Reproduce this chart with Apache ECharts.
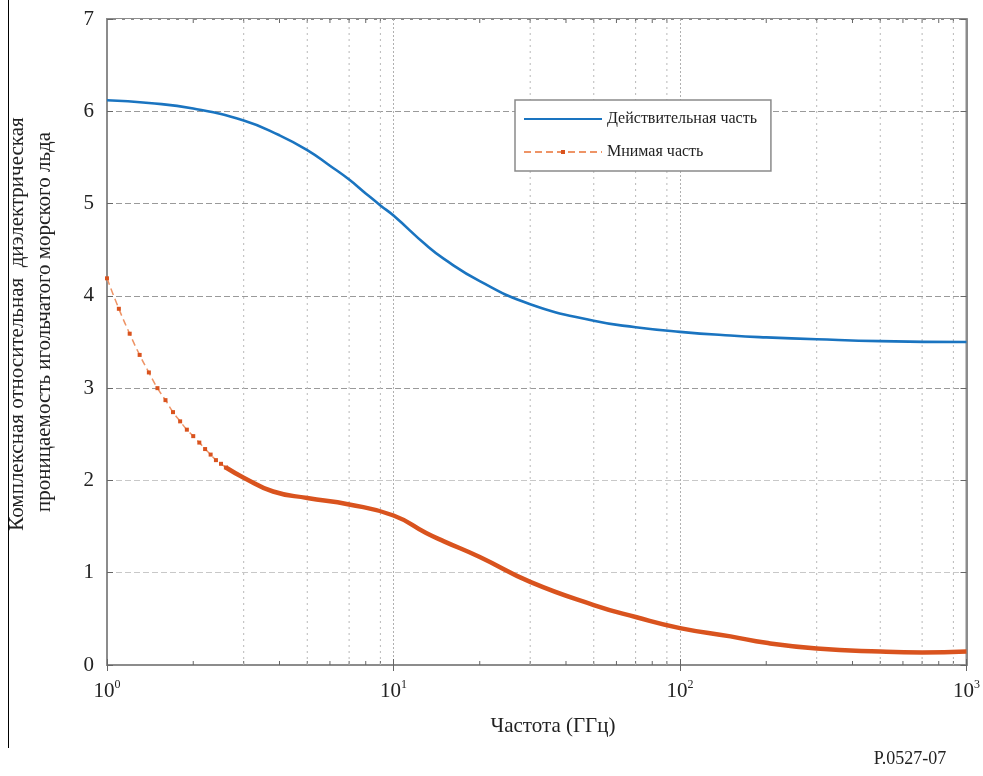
<!DOCTYPE html>
<html>
<head>
<meta charset="utf-8">
<script src="https://cdn.jsdelivr.net/npm/echarts@6/dist/echarts.min.js"></script>
<style>
  html, body { margin: 0; padding: 0; background: #fff; }
  #chart { width: 983px; height: 776px; }
</style>
</head>
<body>
<div id="chart"></div>
<script>
// действительная часть
var realFreq = [1, 1.4, 2, 3, 4, 5, 6, 7, 8, 9, 10, 13, 15, 20, 30, 50, 70, 100, 150, 200, 300, 500, 1000];
var realVal  = [6.12, 6.09, 6.03, 5.90, 5.74, 5.58, 5.41, 5.26, 5.11, 4.98, 4.87, 4.55, 4.40, 4.16, 3.91, 3.73, 3.66, 3.61, 3.57, 3.55, 3.53, 3.51, 3.50];

// мнимая часть: начало с маркерами
var imagFreqA = [1.0, 1.1, 1.2, 1.3, 1.4, 1.5, 1.6, 1.7, 1.8, 1.9, 2.0, 2.1, 2.2, 2.3, 2.4, 2.5, 2.6];
var imagValA  = [4.19, 3.86, 3.59, 3.36, 3.17, 3.00, 2.87, 2.74, 2.64, 2.55, 2.48, 2.41, 2.34, 2.28, 2.22, 2.18, 2.14];
// мнимая часть: плотная часть
var imagFreqB = [2.6, 3, 3.8, 5, 7, 10, 13, 15, 20, 30, 50, 70, 100, 150, 200, 300, 500, 700, 1000];
var imagValB  = [2.14, 2.03, 1.88, 1.81, 1.74, 1.62, 1.43, 1.34, 1.17, 0.90, 0.65, 0.52, 0.40, 0.31, 0.24, 0.18, 0.145, 0.135, 0.145];

var minorTicks = [2, 3, 4, 5, 6, 7, 8, 9, 20, 30, 40, 50, 60, 70, 80, 90, 200, 300, 400, 500, 600, 700, 800, 900];
var minorGrid  = [3, 5, 7, 9, 30, 50, 70, 90, 300, 500, 700, 900];

var seriesNames = ['Действительная часть', 'Мнимая часть'];
var yTitle = ['Комплексная относительная  диэлектрическая', 'проницаемость игольчатого морского льда'];

function zip(a, b) {
  var out = [];
  for (var i = 0; i < a.length; i++) out.push([a[i], b[i]]);
  return out;
}

var serif = '"Liberation Serif", "DejaVu Serif", serif';
var chart = echarts.init(document.getElementById('chart'));

var option = {
  animation: false,
  backgroundColor: '#fff',
  grid: {
    left: 107, right: 10, top: 19, bottom: 111,
    show: true, borderColor: '#8c8c8c', borderWidth: 2
  },
  legend: {
    orient: 'vertical',
    left: 515, top: 100,
    data: [
      { name: seriesNames[0], itemStyle: { color: 'rgba(0,0,0,0)', borderWidth: 0 } },
      { name: seriesNames[1] }
    ],
    itemWidth: 78, itemHeight: 5, itemGap: 17,
    padding: [11, 14, 11, 8],
    borderColor: '#8a8a8a', borderWidth: 1.5,
    backgroundColor: '#fff',
    textStyle: { fontFamily: serif, fontSize: 16, color: '#222' }
  },
  xAxis: [{
    type: 'log', logBase: 10, min: 1, max: 1000,
    axisLine: { show: true, lineStyle: { color: '#8c8c8c', width: 2 } },
    axisTick: { show: true, inside: true, length: 6, lineStyle: { color: '#666' } },
    splitLine: { show: true, lineStyle: { color: '#b0b0b0', type: [2, 2], width: 1 } },
    axisLabel: {
      margin: 14,
      color: '#222',
      fontFamily: serif,
      fontSize: 21,
      formatter: function (v) {
        return '10{s|' + Math.round(Math.log10(v)) + '}';
      },
      rich: {
        s: { fontSize: 12, fontFamily: serif, color: '#222', verticalAlign: 'top', padding: [0, 0, 12, 0] }
      }
    }
  }, {
    type: 'log', logBase: 10, min: 1, max: 1000, position: 'top',
    axisLine: { show: true, lineStyle: { color: '#8c8c8c', width: 2 } },
    axisTick: { show: true, inside: true, length: 6, lineStyle: { color: '#666' } },
    axisLabel: { show: false },
    splitLine: { show: false }
  }],
  yAxis: [{
    type: 'value', min: 0, max: 7, interval: 1,
    axisLine: { show: true, lineStyle: { color: '#8c8c8c', width: 2 } },
    axisTick: { show: true, inside: true, length: 6, lineStyle: { color: '#666' } },
    splitLine: {
      show: true,
      lineStyle: { color: ['#fff', '#c8c8c8', '#c8c8c8', '#9a9a9a', '#9a9a9a', '#9a9a9a', '#9a9a9a', '#fff'], type: [6, 3], width: 1.2 }
    },
    axisLabel: { margin: 13, color: '#222', fontFamily: serif, fontSize: 21 }
  }, {
    type: 'value', min: 0, max: 7, interval: 1, position: 'right',
    axisLine: { show: true, lineStyle: { color: '#8c8c8c', width: 2 } },
    axisTick: { show: true, inside: true, length: 6, lineStyle: { color: '#666' } },
    axisLabel: { show: false },
    splitLine: { show: false }
  }],
  graphic: [
    { type: 'line', shape: { x1: 8.5, y1: 0, x2: 8.5, y2: 748 }, style: { stroke: '#000', lineWidth: 1 } },
    { type: 'text', x: 17, y: 324, rotation: Math.PI / 2,
      style: { text: yTitle[0], font: '21px ' + serif, fill: '#222', textAlign: 'center', textVerticalAlign: 'middle' } },
    { type: 'text', x: 44, y: 322, rotation: Math.PI / 2,
      style: { text: yTitle[1], font: '21px ' + serif, fill: '#222', textAlign: 'center', textVerticalAlign: 'middle' } },
    { type: 'text', x: 553, y: 726,
      style: { text: 'Частота (ГГц)', font: '21px ' + serif, fill: '#222', textAlign: 'center', textVerticalAlign: 'middle' } },
    { type: 'text', x: 910, y: 759,
      style: { text: 'P.0527-07', font: '18px ' + serif, fill: '#222', textAlign: 'center', textVerticalAlign: 'middle' } }
  ],
  series: [
    {
      // малые деления и сетка внутри декад
      type: 'custom',
      silent: true,
      z: 1,
      data: minorTicks.map(function (f) { return [f, 0]; }),
      renderItem: function (params, api) {
        var f = api.value(0);
        var bot = api.coord([f, 0]);
        var top = api.coord([f, 7]);
        var kids = [
          { type: 'line', shape: { x1: bot[0], y1: bot[1], x2: bot[0], y2: bot[1] - 4 }, style: { stroke: '#666', lineWidth: 1 } },
          { type: 'line', shape: { x1: top[0], y1: top[1], x2: top[0], y2: top[1] + 4 }, style: { stroke: '#666', lineWidth: 1 } }
        ];
        if (minorGrid.indexOf(f) >= 0) {
          kids.push({ type: 'line', shape: { x1: bot[0], y1: bot[1], x2: top[0], y2: top[1] },
            style: { stroke: '#b8b8b8', lineWidth: 1, lineDash: [2, 4] } });
        }
        return { type: 'group', children: kids };
      }
    },
    {
      name: seriesNames[0],
      type: 'line',
      data: zip(realFreq, realVal),
      smooth: 0.5,
      showSymbol: false,
      symbol: 'none',
      z: 3,
      lineStyle: { color: '#1a74c0', width: 2.6 },
      itemStyle: { color: '#1a74c0' }
    },
    {
      name: seriesNames[1],
      type: 'line',
      data: zip(imagFreqA, imagValA),
      smooth: 0.5,
      symbol: 'rect',
      symbolSize: 4,
      showSymbol: true,
      z: 3,
      lineStyle: { color: '#ee9466', width: 1.5, type: [7, 4] },
      itemStyle: { color: '#d9531e' }
    },
    {
      name: seriesNames[1],
      type: 'line',
      data: zip(imagFreqB, imagValB),
      smooth: 0.5,
      showSymbol: false,
      symbol: 'none',
      z: 3,
      lineStyle: { color: '#d9531e', width: 4.5 },
      itemStyle: { color: '#d9531e' }
    }
  ]
};

chart.setOption(option);
</script>
</body>
</html>
